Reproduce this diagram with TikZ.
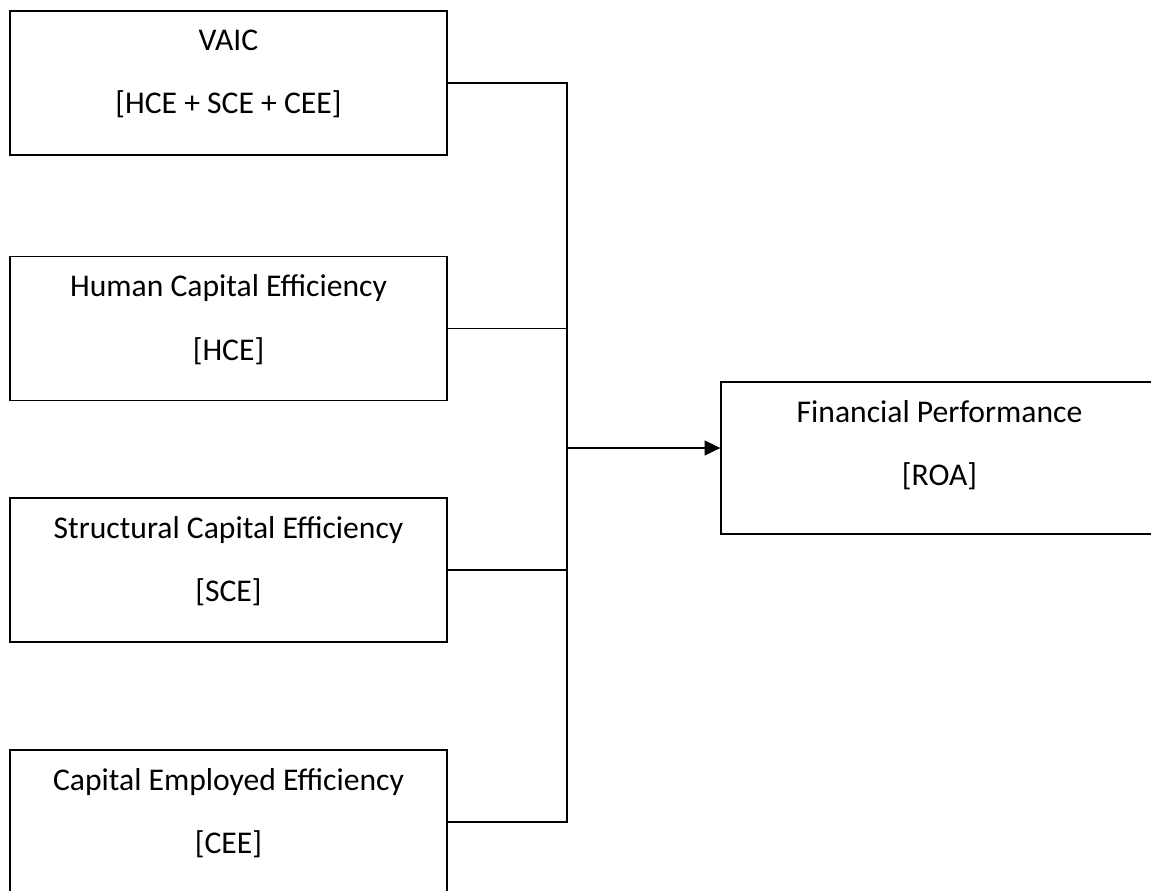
\documentclass[tikz,border=0pt]{standalone}
\usepackage{fontspec}
\setmainfont{Carlito}
\usepackage{tikz}
\usetikzlibrary{arrows.meta,positioning,calc}

\begin{document}
\begin{tikzpicture}[x=0.02cm,y=-0.02cm,
font=\fontsize{18}{36}\selectfont,
cell/.style={draw,line width=0.8pt,minimum width=8.74cm,minimum height=2.88cm,align=center,inner sep=0pt,text depth=12.6pt},
arr/.style={line width=0.8pt}]
\useasboundingbox (0,0) rectangle (1151,890);
\node[cell] (vaic) at (228.5,83) {VAIC\\{[HCE + SCE + CEE]}};
\node[cell] (hce) at (228.5,328.5) {Human Capital Efficiency\\{[HCE]}};
\node[cell] (sce) at (228.5,570) {Structural Capital Efficiency\\{[SCE]}};
\node[cell] (cee) at (228.5,822) {Capital Employed Efficiency\\{[CEE]}};
\node[cell,minimum height=3.04cm,text depth=17pt] (roa) at (939.5,458) {Financial Performance\\{[ROA]}};
\coordinate (bus) at (567,448);
\draw[arr] (vaic.east) -- (vaic.east -| bus) -- (cee.east -| bus) -- (cee.east);
\draw[arr] (hce.east) -- (hce.east -| bus);
\draw[arr] (sce.east) -- (sce.east -| bus);
\draw[arr,-{Triangle[length=9pt,width=8.5pt]}] (bus) -- (bus -| roa.west);
\end{tikzpicture}
\end{document}
